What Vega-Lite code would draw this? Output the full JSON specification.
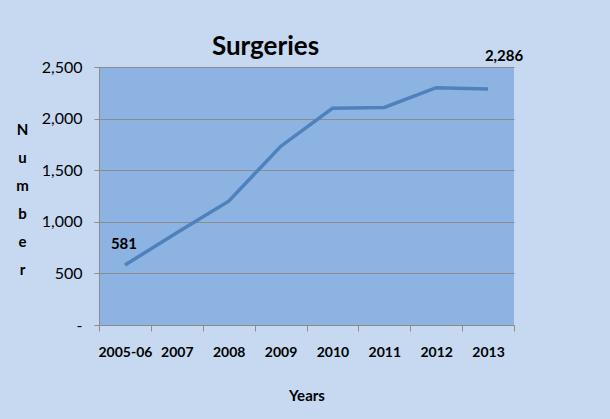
{
  "$schema": "https://vega.github.io/schema/vega-lite/v6.json",
  "width": 415,
  "height": 258,
  "autosize": {"type": "none"},
  "padding": {"left": 99, "top": 67, "right": 96, "bottom": 94},
  "background": "#C6D9F1",
  "title": {
    "text": "Surgeries",
    "font": "Lato",
    "fontSize": 26,
    "fontWeight": "bold",
    "color": "#000000",
    "anchor": "middle",
    "dx": -41,
    "offset": -37,
    "baseline": "bottom"
  },
  "config": {
    "view": {"fill": "#8DB3E2", "stroke": null},
    "axis": {"labelFont": "Lato", "titleFont": "Lato", "labelColor": "#000000", "titleColor": "#000000", "domainColor": "#8C8C8C", "tickColor": "#8C8C8C", "gridColor": "#8C8C8C"}
  },
  "data": {
    "values": [
      {"year": "2005-06", "number": 581, "label": "581"},
      {"year": "2007", "number": 893, "label": ""},
      {"year": "2008", "number": 1200, "label": ""},
      {"year": "2009", "number": 1730, "label": ""},
      {"year": "2010", "number": 2100, "label": ""},
      {"year": "2011", "number": 2108, "label": ""},
      {"year": "2012", "number": 2300, "label": ""},
      {"year": "2013", "number": 2286, "label": "2,286"}
    ]
  },
  "encoding": {
    "x": {
      "field": "year", "type": "ordinal", "sort": null,
      "scale": {"paddingInner": 0, "paddingOuter": 0},
      "axis": {
        "title": "Years", "titleFontSize": 15, "titleFontWeight": "bold", "titlePadding": 29,
        "labelAngle": 0, "labelFontSize": 14, "labelFontWeight": "bold", "labelPadding": 14,
        "tickBand": "extent", "tickSize": 6, "grid": false, "domainColor": "#8C8C8C"
      }
    },
    "y": {
      "field": "number", "type": "quantitative",
      "scale": {"domain": [0, 2500], "nice": false},
      "axis": {
        "values": [0, 500, 1000, 1500, 2000, 2500],
        "labelExpr": "datum.value == 0 ? '-' : format(datum.value, ',')",
        "labelFontSize": 16, "labelPadding": 12, "tickSize": 5,
        "grid": true, "gridWidth": 1,
        "title": ["N", "u", "m", "b", "e", "r"],
        "titleAngle": 0, "titleFontSize": 15, "titleFontWeight": "bold",
        "titleLineHeight": 28, "titleBaseline": "top", "titleAlign": "center",
        "titleX": -77, "titleY": 55
      }
    }
  },
  "layer": [
    {
      "mark": {"type": "line", "color": "#4F81BD", "strokeWidth": 3.5}
    },
    {
      "transform": [{"filter": "datum.year == '2005-06'"}],
      "mark": {"type": "text", "font": "Lato", "fontSize": 15, "fontWeight": "bold", "color": "#000000", "dx": -1, "dy": -21},
      "encoding": {"text": {"field": "label"}}
    },
    {
      "transform": [{"filter": "datum.year == '2013'"}],
      "mark": {"type": "text", "font": "Lato", "fontSize": 15, "fontWeight": "bold", "color": "#000000", "dx": 16, "dy": -33},
      "encoding": {"text": {"field": "label"}}
    }
  ]
}
